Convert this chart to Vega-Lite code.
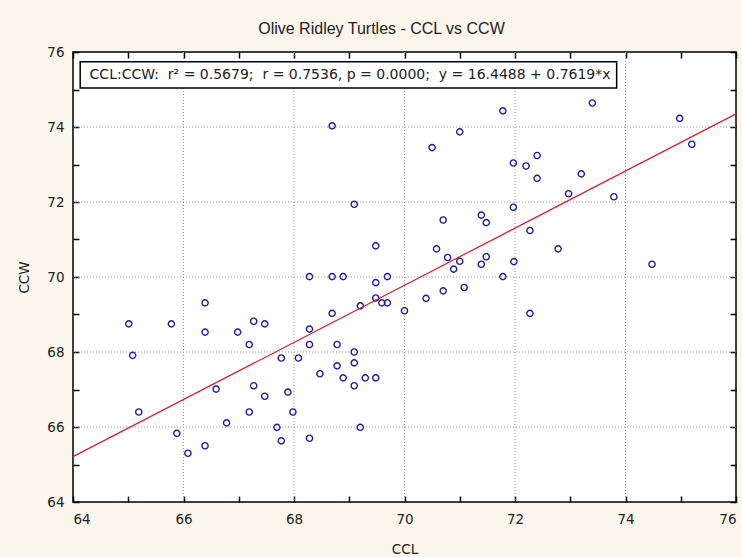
{
  "$schema": "https://vega.github.io/schema/vega-lite/v6.json",
  "width": 663,
  "height": 450,
  "autosize": {"type": "none"},
  "padding": {"left": 73, "top": 52, "right": 6, "bottom": 55},
  "background": "#faf6ec",
  "title": {"text": "Olive Ridley Turtles - CCL vs CCW", "fontSize": 16, "font": "Liberation Sans", "fontWeight": "normal", "color": "#222222", "offset": 8, "dx": -23},
  "config": {
    "view": {"stroke": "#000000", "strokeWidth": 1.5, "fill": "#ffffff"},
    "axis": {
      "labelFont": "DejaVu Sans", "labelFontSize": 13.5, "labelColor": "#222222",
      "titleFont": "DejaVu Sans", "titleFontSize": 13.5, "titleFontWeight": "normal", "titleColor": "#222222",
      "domain": false, "ticks": true, "tickColor": "#000000", "tickSize": 6, "tickWidth": 1.5, "grid": false
    }
  },
  "datasets": {
    "turtles": [
      {"CCL": 65.01, "CCW": 68.75}, {"CCL": 65.78, "CCW": 68.75}, {"CCL": 66.39, "CCW": 69.31}, {"CCL": 66.39, "CCW": 68.53},
      {"CCL": 65.08, "CCW": 67.91}, {"CCL": 65.19, "CCW": 66.40}, {"CCL": 65.88, "CCW": 65.83}, {"CCL": 66.08, "CCW": 65.30},
      {"CCL": 66.39, "CCW": 65.50}, {"CCL": 66.59, "CCW": 67.01}, {"CCL": 66.78, "CCW": 66.11}, {"CCL": 66.98, "CCW": 68.53},
      {"CCL": 67.19, "CCW": 68.20}, {"CCL": 67.27, "CCW": 68.82}, {"CCL": 67.47, "CCW": 68.75}, {"CCL": 67.27, "CCW": 67.10},
      {"CCL": 67.47, "CCW": 66.82}, {"CCL": 67.19, "CCW": 66.40}, {"CCL": 67.77, "CCW": 67.84}, {"CCL": 68.08, "CCW": 67.84},
      {"CCL": 67.89, "CCW": 66.93}, {"CCL": 67.98, "CCW": 66.40}, {"CCL": 67.69, "CCW": 65.99}, {"CCL": 67.77, "CCW": 65.63},
      {"CCL": 68.28, "CCW": 70.01}, {"CCL": 68.69, "CCW": 70.01}, {"CCL": 68.89, "CCW": 70.01}, {"CCL": 69.69, "CCW": 70.01},
      {"CCL": 69.48, "CCW": 69.85}, {"CCL": 69.48, "CCW": 69.44}, {"CCL": 69.59, "CCW": 69.31}, {"CCL": 69.69, "CCW": 69.31},
      {"CCL": 69.20, "CCW": 69.23}, {"CCL": 68.69, "CCW": 69.03}, {"CCL": 68.28, "CCW": 68.61}, {"CCL": 68.28, "CCW": 68.20},
      {"CCL": 68.78, "CCW": 68.20}, {"CCL": 69.09, "CCW": 68.00}, {"CCL": 69.09, "CCW": 67.71}, {"CCL": 68.78, "CCW": 67.63},
      {"CCL": 68.47, "CCW": 67.42}, {"CCL": 68.89, "CCW": 67.31}, {"CCL": 69.09, "CCW": 67.10}, {"CCL": 69.29, "CCW": 67.31},
      {"CCL": 69.48, "CCW": 67.31}, {"CCL": 69.20, "CCW": 65.99}, {"CCL": 68.28, "CCW": 65.70}, {"CCL": 70.00, "CCW": 69.10},
      {"CCL": 70.39, "CCW": 69.43}, {"CCL": 70.70, "CCW": 69.63}, {"CCL": 71.08, "CCW": 69.72}, {"CCL": 71.78, "CCW": 70.01},
      {"CCL": 70.89, "CCW": 70.21}, {"CCL": 71.00, "CCW": 70.42}, {"CCL": 71.39, "CCW": 70.34}, {"CCL": 71.98, "CCW": 70.41},
      {"CCL": 68.69, "CCW": 74.03}, {"CCL": 69.09, "CCW": 71.94}, {"CCL": 69.48, "CCW": 70.83}, {"CCL": 70.50, "CCW": 73.45},
      {"CCL": 71.00, "CCW": 73.87}, {"CCL": 71.78, "CCW": 74.43}, {"CCL": 71.97, "CCW": 73.04}, {"CCL": 71.97, "CCW": 71.86},
      {"CCL": 70.70, "CCW": 71.52}, {"CCL": 71.39, "CCW": 71.65}, {"CCL": 71.48, "CCW": 71.45}, {"CCL": 70.58, "CCW": 70.75},
      {"CCL": 70.78, "CCW": 70.52}, {"CCL": 71.48, "CCW": 70.54}, {"CCL": 73.40, "CCW": 74.64}, {"CCL": 74.98, "CCW": 74.23},
      {"CCL": 75.20, "CCW": 73.54}, {"CCL": 72.20, "CCW": 72.96}, {"CCL": 72.40, "CCW": 73.24}, {"CCL": 72.40, "CCW": 72.63},
      {"CCL": 73.20, "CCW": 72.75}, {"CCL": 72.97, "CCW": 72.22}, {"CCL": 73.79, "CCW": 72.14}, {"CCL": 72.27, "CCW": 71.24},
      {"CCL": 72.78, "CCW": 70.75}, {"CCL": 74.48, "CCW": 70.34}, {"CCL": 72.27, "CCW": 69.03}
    ],
    "fit": [{"CCL": 64, "CCW": 65.21}, {"CCL": 76, "CCW": 74.35}],
    "gridvals": [{"g": 66}, {"g": 68}, {"g": 70}, {"g": 72}, {"g": 74}],
    "note": [{"label": "CCL:CCW:\u00a0\u00a0r² = 0.5679;\u00a0\u00a0r = 0.7536, p = 0.0000;\u00a0\u00a0y = 16.4488 + 0.7619*x"}]
  },
  "resolve": {"axis": {"x": "independent", "y": "independent"}},
  "layer": [
    {
      "data": {"name": "gridvals"},
      "mark": {"type": "rule", "color": "#999999", "strokeDash": [1, 2], "strokeWidth": 1},
      "encoding": {"x": {"field": "g", "type": "quantitative", "axis": null}}
    },
    {
      "data": {"name": "gridvals"},
      "mark": {"type": "rule", "color": "#999999", "strokeDash": [1, 2], "strokeWidth": 1},
      "encoding": {"y": {"field": "g", "type": "quantitative", "axis": null}}
    },
    {
      "data": {"name": "turtles"},
      "mark": {"type": "point", "shape": "circle", "filled": false, "stroke": "#1c1ca0", "strokeWidth": 1.4, "size": 38, "opacity": 1},
      "encoding": {
        "x": {"field": "CCL", "type": "quantitative", "title": "CCL",
          "scale": {"domain": [64, 76], "nice": false, "zero": false},
          "axis": {"orient": "bottom", "offset": -6, "values": [64, 65, 66, 67, 68, 69, 70, 71, 72, 73, 74, 75, 76],
            "labelExpr": "datum.value % 2 === 0 ? datum.label : ''", "labelPadding": 10, "titlePadding": 17}},
        "y": {"field": "CCW", "type": "quantitative", "title": "CCW",
          "scale": {"domain": [64, 76], "nice": false, "zero": false},
          "axis": {"orient": "left", "offset": -6, "values": [64, 65, 66, 67, 68, 69, 70, 71, 72, 73, 74, 75, 76],
            "labelExpr": "datum.value % 2 === 0 ? datum.label : ''", "labelPadding": 9, "titlePadding": 15}}
      }
    },
    {
      "data": {"name": "fit"},
      "mark": {"type": "line", "color": "#d0202c", "strokeWidth": 1.2},
      "encoding": {
        "x": {"field": "CCL", "type": "quantitative",
          "axis": {"orient": "top", "offset": -6, "values": [64, 65, 66, 67, 68, 69, 70, 71, 72, 73, 74, 75, 76], "labelOpacity": 0, "labelFontSize": 2, "title": ""}},
        "y": {"field": "CCW", "type": "quantitative",
          "axis": {"orient": "right", "offset": -6, "values": [64, 65, 66, 67, 68, 69, 70, 71, 72, 73, 74, 75, 76], "labelOpacity": 0, "labelFontSize": 2, "title": ""}}
      }
    },
    {
      "data": {"name": "note"},
      "mark": {"type": "rect", "fill": "#ffffff", "stroke": "#000000", "strokeWidth": 1.5},
      "encoding": {
        "x": {"datum": 64.13, "type": "quantitative", "axis": null},
        "x2": {"datum": 73.84},
        "y": {"datum": 75.74, "type": "quantitative", "axis": null},
        "y2": {"datum": 75.04}
      }
    },
    {
      "data": {"name": "note"},
      "mark": {"type": "text", "align": "left", "baseline": "middle", "font": "DejaVu Sans", "fontSize": 14, "color": "#222222"},
      "encoding": {
        "x": {"datum": 64.3, "type": "quantitative", "axis": null},
        "y": {"datum": 75.39, "type": "quantitative", "axis": null},
        "text": {"field": "label"}
      }
    }
  ]
}
